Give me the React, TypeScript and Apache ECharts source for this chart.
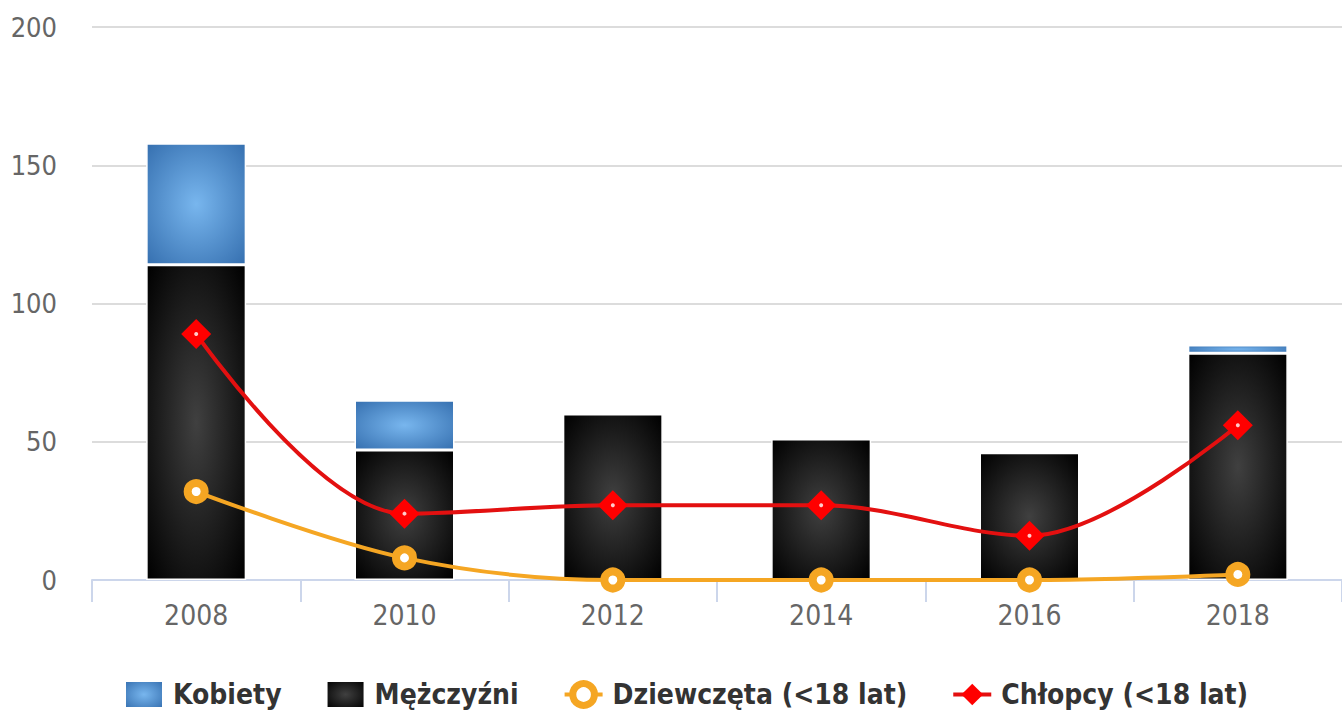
import React, { useEffect, useRef } from "react";
import * as echarts from "echarts";

const years = ["2008", "2010", "2012", "2014", "2016", "2018"];
const kobiety = [44, 18, 0, 0, 0, 3];
const mezczyzni = [114, 47, 60, 51, 46, 82];
const dziewczeta = [32, 8, 0, 0, 0, 2];
const chlopcy = [89, 24, 27, 27, 16, 56];

const FONT = "'DejaVu Sans Condensed', 'DejaVu Sans', sans-serif";
const ORANGE = "#f5a623";
const RED = "#ff0000";

const radial = (inner: string, outer: string) => ({
  type: "radial",
  x: 0.5,
  y: 0.5,
  r: 0.7,
  colorStops: [
    { offset: 0, color: inner },
    { offset: 1, color: outer },
  ],
});

export default function App() {
  const ref = useRef<HTMLDivElement>(null);
  useEffect(() => {
    if (!ref.current) return;
    const chart = echarts.init(ref.current, null, { renderer: "svg" });
    chart.setOption({
      animation: false,
      backgroundColor: "#ffffff",
      textStyle: { fontFamily: FONT },
      grid: { left: 92, right: 0, top: 27, bottom: 133, containLabel: false },
      legend: {
        bottom: -1,
        left: 119,
        itemWidth: 38,
        itemHeight: 27,
        itemGap: 44,
        data: [
          { name: "Kobiety", icon: "rect" },
          { name: "Mężczyźni", icon: "rect" },
          {
            name: "Dziewczęta (<18 lat)",
            itemStyle: { color: "#ffffff", borderColor: ORANGE, borderWidth: 7 },
            lineStyle: { color: ORANGE, width: 4 },
          },
          {
            name: "Chłopcy (<18 lat)",
            itemStyle: { color: RED },
            lineStyle: { color: "#e31010", width: 4 },
          },
        ],
        textStyle: {
          fontFamily: FONT,
          fontSize: 28,
          fontWeight: "bold",
          color: "#333333",
          padding: [0, 0, 0, 5],
        },
      },
      xAxis: {
        type: "category",
        data: years,
        axisLine: { lineStyle: { color: "#ccd6eb", width: 2 } },
        axisTick: { show: true, length: 22, lineStyle: { color: "#ccd6eb", width: 2 } },
        axisLabel: { color: "#666666", fontSize: 28, fontFamily: FONT, margin: 21 },
      },
      yAxis: {
        type: "value",
        min: 0,
        max: 200,
        interval: 50,
        axisLabel: { color: "#666666", fontSize: 27, fontFamily: FONT, margin: 35 },
        splitLine: { lineStyle: { color: "#dcdcdc", width: 2 } },
        axisLine: { show: false },
        axisTick: { show: false },
      },
      series: [
        {
          name: "Mężczyźni",
          type: "bar",
          stack: "total",
          data: mezczyzni,
          barWidth: 100,
          itemStyle: { color: radial("#404040", "#000000"), borderColor: "#ffffff", borderWidth: 1.5 },
          z: 2,
        },
        {
          name: "Kobiety",
          type: "bar",
          stack: "total",
          data: kobiety,
          barWidth: 100,
          itemStyle: { color: radial("#78b6ee", "#3670b0"), borderColor: "#ffffff", borderWidth: 1.5 },
          z: 2,
        },
        {
          name: "Dziewczęta (<18 lat)",
          type: "line",
          data: dziewczeta,
          smooth: 0.35,
          symbol: "circle",
          symbolSize: 17,
          lineStyle: { color: ORANGE, width: 4 },
          itemStyle: { color: "#ffffff", borderColor: ORANGE, borderWidth: 8 },
          z: 5,
        },
        {
          name: "Chłopcy (<18 lat)",
          type: "line",
          data: chlopcy,
          smooth: 0.35,
          symbol: "diamond",
          symbolSize: 30,
          lineStyle: { color: "#e31010", width: 4 },
          itemStyle: { color: RED },
          z: 6,
        },
        {
          name: "chlopcyDot",
          type: "scatter",
          data: chlopcy,
          symbol: "circle",
          symbolSize: 4,
          itemStyle: { color: "#ffffff" },
          silent: true,
          z: 7,
        },
      ],
    });
    return () => chart.dispose();
  }, []);
  return <div ref={ref} style={{ width: 1342, height: 713, position: "absolute", left: 0, top: 0 }} />;
}
